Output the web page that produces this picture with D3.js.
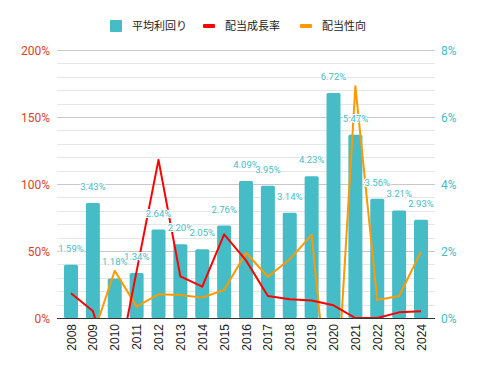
<!DOCTYPE html>
<html>
<head>
<meta charset="utf-8">
<script src="https://cdn.jsdelivr.net/npm/d3@7"></script>
<style>
  body { margin: 0; background: #fff; }
  text { font-family: Roboto, "Noto Sans CJK JP", sans-serif; }
</style>
</head>
<body>
<div id="viz"></div>
<script>
// data
var years = ["2008","2009","2010","2011","2012","2013","2014","2015","2016","2017","2018","2019","2020","2021","2022","2023","2024"];
var yieldPct = [1.59, 3.43, 1.18, 1.34, 2.64, 2.20, 2.05, 2.76, 4.09, 3.95, 3.14, 4.23, 6.72, 5.47, 3.56, 3.21, 2.93];
var growthPct = [18.4, 5.2, -48, 35, 118, 31, 23.4, 62.4, 43, 16.4, 14, 13, 9.5, 0, 0, 4.2, 5];
var payoutPct = [null, -13.5, 35.3, 8.5, 17.7, 17.2, 15.2, 20.9, 48.7, 30.8, 43.8, 62, -100, 173, 13.4, 16.4, 49.5];
var leftTicks = [0, 50, 100, 150, 200];
var rightTicks = [0, 2, 4, 6, 8];
var seriesNames = ["平均利回り", "配当成長率", "配当性向"];

var W = 481, H = 371;
var margin = {top: 50, right: 46, bottom: 53, left: 57};
var x0 = margin.left, x1 = W - margin.right, yTop = margin.top, yBot = H - margin.bottom;

var teal = "#46bdc6", red = "#ff0000", orange = "#ff9900", leftCol = "#d8442b";

var svg = d3.select("#viz").append("svg")
    .attr("width", W)
    .attr("height", H);

var x = d3.scaleBand().domain(years).range([x0, x1]).paddingInner(0.36).paddingOuter(0.32);
var yL = d3.scaleLinear().domain([0, 200]).range([yBot, yTop]);
var yR = d3.scaleLinear().domain([0, 8]).range([yBot, yTop]);

// grid lines (minor every 10%, major every 50%)
svg.append("g")
  .selectAll("line")
  .data(d3.range(10, 201, 10))
  .enter().append("line")
    .attr("x1", x0).attr("x2", x1)
    .attr("y1", function(d) { return Math.round(yL(d)) + 0.5; })
    .attr("y2", function(d) { return Math.round(yL(d)) + 0.5; })
    .style("stroke", function(d) { return d % 50 === 0 ? "#c8c8c8" : "#e6e6e6"; })
    .style("stroke-width", 1);

// bars
svg.append("g")
  .selectAll("rect")
  .data(yieldPct)
  .enter().append("rect")
    .attr("x", function(d, i) { return x(years[i]); })
    .attr("y", function(d) { return yR(d); })
    .attr("width", x.bandwidth())
    .attr("height", function(d) { return yBot - yR(d); })
    .attr("rx", 1.5)
    .style("fill", teal);

// clip for lines
svg.append("clipPath").attr("id", "plot")
  .append("rect").attr("x", x0).attr("y", 0).attr("width", x1 - x0).attr("height", yBot);

var cx = function(i) { return x(years[i]) + x.bandwidth() / 2; };

var line = d3.line()
    .defined(function(d) { return d != null; })
    .x(function(d, i) { return cx(i); })
    .y(function(d) { return yL(d); });

svg.append("path")
    .datum(payoutPct)
    .attr("clip-path", "url(#plot)")
    .attr("d", line)
    .style("fill", "none").style("stroke", orange).style("stroke-width", 2)
    .style("stroke-linejoin", "round");

svg.append("path")
    .datum(growthPct)
    .attr("clip-path", "url(#plot)")
    .attr("d", line)
    .style("fill", "none").style("stroke", red).style("stroke-width", 2)
    .style("stroke-linejoin", "round");

// baseline
svg.append("line")
    .attr("x1", x0).attr("x2", x1)
    .attr("y1", yBot + 0.5).attr("y2", yBot + 0.5)
    .style("stroke", "#333").style("stroke-width", 1);

// bar labels
svg.append("g")
  .selectAll("text")
  .data(yieldPct)
  .enter().append("text")
    .attr("x", function(d, i) { return cx(i); })
    .attr("y", function(d) { return yR(d) - 13; })
    .attr("text-anchor", "middle")
    .style("font-size", "9.5px")
    .style("fill", teal)
    .style("stroke", "#fff").style("stroke-width", 2)
    .style("paint-order", "stroke")
    .text(function(d) { return d.toFixed(2) + "%"; });

// left axis
svg.append("g")
  .selectAll("text")
  .data(leftTicks)
  .enter().append("text")
    .attr("x", x0 - 7)
    .attr("y", function(d) { return yL(d) + 4.5; })
    .attr("text-anchor", "end")
    .style("font-size", "12px")
    .style("fill", leftCol)
    .text(function(d) { return d + "%"; });

// right axis
svg.append("g")
  .selectAll("text")
  .data(rightTicks)
  .enter().append("text")
    .attr("x", x1 + 6)
    .attr("y", function(d) { return yR(d) + 4.5; })
    .attr("text-anchor", "start")
    .style("font-size", "12px")
    .style("fill", teal)
    .text(function(d) { return d + "%"; });

// x labels rotated
svg.append("g")
  .selectAll("text")
  .data(years)
  .enter().append("text")
    .attr("transform", function(d, i) { return "translate(" + (cx(i) + 4.5) + "," + (yBot + 6) + ") rotate(-90)"; })
    .attr("text-anchor", "end")
    .style("font-family", "'Liberation Sans', Arial, sans-serif")
    .style("font-size", "12px")
    .style("fill", "#222")
    .text(function(d) { return d; });

// legend
var legend = svg.append("g").attr("transform", "translate(0,26)");
var lx = [110, 203, 300];
legend.append("rect").attr("x", lx[0]).attr("y", -6).attr("width", 12).attr("height", 12).attr("rx", 1).style("fill", teal);
legend.append("rect").attr("x", lx[1]).attr("y", -2).attr("width", 12).attr("height", 4).attr("rx", 1).style("fill", red);
legend.append("rect").attr("x", lx[2]).attr("y", -2).attr("width", 12).attr("height", 4).attr("rx", 1).style("fill", orange);
legend.selectAll(".lt")
  .data(seriesNames)
  .enter().append("text")
    .attr("x", function(d, i) { return lx[i] + 22; })
    .attr("y", 4)
    .style("font-family", "'Noto Sans CJK JP', sans-serif")
    .style("font-size", "11px")
    .style("fill", "#222")
    .text(function(d) { return d; });
</script>
</body>
</html>
